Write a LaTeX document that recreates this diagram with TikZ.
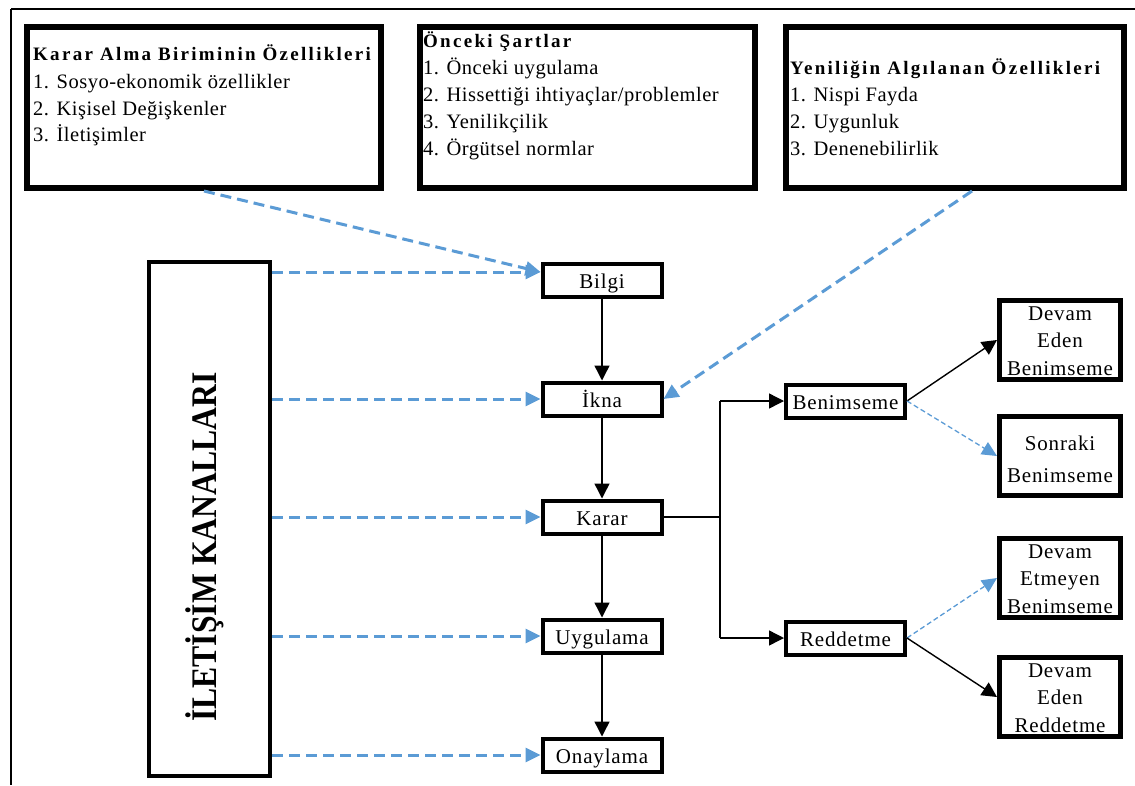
\documentclass[tikz,border=0pt]{standalone}
\usepackage{graphicx}
\usepackage{fontspec}
\setmainfont{Liberation Serif}
\newfontfamily\headfont[LetterSpace=12]{Liberation Serif}
\newfontfamily\bodyfont[LetterSpace=2.5]{Liberation Serif}
\newfontfamily\boxfont[LetterSpace=4]{Liberation Serif}
\usetikzlibrary{arrows.meta}
\definecolor{chanblue}{RGB}{91,155,213}

\tikzset{
  topbox/.style={draw, rectangle, line width=6pt, inner sep=0pt, minimum height=161pt},
  headline/.style={anchor=base west, inner sep=0pt, font=\headfont\bfseries\fontsize{19}{19}\selectfont},
  itemline/.style={anchor=base west, inner sep=0pt, font=\bodyfont\fontsize{20.5}{20.5}\selectfont},
  stagebox/.style={draw, rectangle, line width=4pt, inner sep=0pt, minimum width=119pt, minimum height=33pt,
    text height=18pt, text depth=2pt, font=\boxfont\fontsize{21}{21}\selectfont},
  outcomebox/.style={draw, rectangle, line width=5pt, inner sep=0pt, minimum width=121pt, minimum height=79pt},
  outcometext/.style={inner sep=0pt, align=center, font=\boxfont\fontsize{21}{27.5}\selectfont},
  chanbox/.style={draw, rectangle, line width=4pt, inner sep=0pt, minimum width=121pt, minimum height=514pt},
  flow/.style={line width=1.4pt, -{Triangle[length=15pt, width=15pt]}},
  plainline/.style={line width=1.4pt},
  influence/.style={chanblue, line width=3pt, dash pattern=on 11pt off 6pt,
    -{Triangle[length=15pt, width=14pt]}},
  weakflow/.style={chanblue, line width=1.3pt, dash pattern=on 5pt off 3pt,
    -{Triangle[length=15pt, width=14pt]}},
}

\begin{document}
\begin{tikzpicture}[x=1pt, y=-1pt]
\useasboundingbox (0,0) rectangle (1135,785);

% outer frame (top and left edges)
\draw[line width=1.6pt] (11,9) -- (1135,9);
\draw[line width=1.6pt] (11,9) -- (11,785);

% ---- top information boxes ----
\node[topbox, minimum width=354pt] (kab) at (204,107.5) {};
\node[headline] (kab-t) at (33,60) {Karar Alma Biriminin Özellikleri};
\node[itemline] (kab-1) at (33,88) {1. Sosyo-ekonomik özellikler};
\node[itemline] (kab-2) at (33,115) {2. Kişisel Değişkenler};
\node[itemline] (kab-3) at (33,141) {3. İletişimler};

\node[topbox, minimum width=335pt] (ons) at (587.5,107.5) {};
\node[headline] (ons-t) at (423,47) {Önceki Şartlar};
\node[itemline] (ons-1) at (423,74) {1. Önceki uygulama};
\node[itemline] (ons-2) at (423,101) {2. Hissettiği ihtiyaçlar/problemler};
\node[itemline] (ons-3) at (423,128) {3. Yenilikçilik};
\node[itemline] (ons-4) at (423,155) {4. Örgütsel normlar};

\node[topbox, minimum width=338pt] (yen) at (955,107.5) {};
\node[headline] (yen-t) at (790,74) {Yeniliğin Algılanan Özellikleri};
\node[itemline] (yen-1) at (790,101) {1. Nispi Fayda};
\node[itemline] (yen-2) at (790,128) {2. Uygunluk};
\node[itemline] (yen-3) at (790,155) {3. Denenebilirlik};

% ---- communication channels ----
\node[chanbox] (chan) at (209.5,519) {};
\node[rotate=90, inner sep=0pt] (chan-t) at (205,547)
  {\fontsize{36}{36}\selectfont\bfseries\scalebox{0.88}[1]{İLETİŞİM KANALLARI}};

% ---- decision stages ----
\node[stagebox] (bilgi) at (602,280) {Bilgi};
\node[stagebox] (ikna) at (602,399) {İkna};
\node[stagebox] (karar) at (602,517) {Karar};
\node[stagebox] (uyg) at (602,636) {Uygulama};
\node[stagebox] (onay) at (602,755) {Onaylama};

\draw[flow] (bilgi.south) -- (ikna.north);
\draw[flow] (ikna.south) -- (karar.north);
\draw[flow] (karar.south) -- (uyg.north);
\draw[flow] (uyg.south) -- (onay.north);

% ---- channel influences ----
\draw[influence] (chan.east |- 0,272) -- (bilgi.west |- 0,272);
\draw[influence] (chan.east |- ikna.west) -- (ikna.west);
\draw[influence] (chan.east |- karar.west) -- (karar.west);
\draw[influence] (chan.east |- uyg.west) -- (uyg.west);
\draw[influence] (chan.east |- onay.west) -- (onay.west);

\draw[influence] (kab.south) -- (bilgi.west |- 0,272);
\draw[influence] ([xshift=17pt]yen.south) -- (ikna.east);

% ---- decision outcomes ----
\node[stagebox] (benim) at (845.5,401) {Benimseme};
\node[stagebox] (redd) at (845.5,638) {Reddetme};

\coordinate (split) at (720,517);
\draw[plainline] (karar.east) -- (split);
\draw[plainline] (split |- benim.west) -- (split |- redd.west);
\draw[flow] (split |- benim.west) -- (benim.west);
\draw[flow] (split |- redd.west) -- (redd.west);

\node[outcomebox] (deb) at (1060,340) {};
\node[outcometext] (deb-t) at (1060,341) {Devam\\Eden\\Benimseme};
\node[outcomebox] (sb) at (1060,456) {};
\node[outcometext, font=\boxfont\fontsize{21}{32}\selectfont] (sb-t) at (1060,459) {Sonraki\\Benimseme};
\node[outcomebox] (dmb) at (1060,578) {};
\node[outcometext] (dmb-t) at (1060,579) {Devam\\Etmeyen\\Benimseme};
\node[outcomebox] (der) at (1060,697) {};
\node[outcometext] (der-t) at (1060,698) {Devam\\Eden\\Reddetme};

\draw[flow] (benim.east) -- (deb.west);
\draw[weakflow] (benim.east) -- (sb.west);
\draw[weakflow] (redd.east) -- (dmb.west);
\draw[flow] (redd.east) -- (der.west);
\end{tikzpicture}
\end{document}
